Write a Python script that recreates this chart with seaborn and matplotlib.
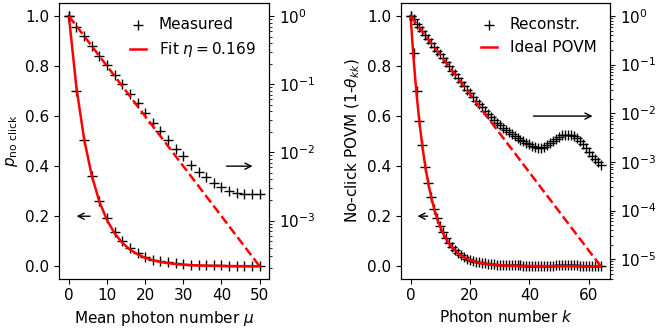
import matplotlib
matplotlib.use("Agg")
import matplotlib.pyplot as plt
import seaborn as sns
import pandas as pd

# левая панель: средняя фотонная частота и вероятность "нет клика"
mu = [0, 2, 4, 6, 8, 10, 12, 14, 16, 18, 20, 22, 24, 26, 28, 30, 32, 34,
      36, 38, 40, 42, 44, 46, 48, 50]
p_measured = [1.0, 0.70, 0.503, 0.36, 0.26, 0.191, 0.138, 0.101, 0.0726,
              0.0521, 0.0383, 0.0266, 0.0205, 0.0151, 0.0113, 0.0087, 0.0066,
              0.0051, 0.0043, 0.0036, 0.0031, 0.00275, 0.00257, 0.00248,
              0.00248, 0.00248]
p_fit = [1.0, 0.7132, 0.5086, 0.3628, 0.2587, 0.1845, 0.1316, 0.09386,
         0.06694, 0.04774, 0.03405, 0.02428, 0.01732, 0.01235, 0.00881,
         0.00628, 0.00448, 0.0032, 0.00228, 0.00163, 0.00116, 0.000827,
         0.00059, 0.000421, 0.0003, 0.000214]

# правая панель: POVM по числу фотонов
k = list(range(65))
povm_rec = [1.0, 0.851, 0.700, 0.582, 0.484, 0.398, 0.331, 0.275, 0.229,
            0.193, 0.162, 0.135, 0.1135, 0.0925, 0.0755, 0.0630, 0.0525,
            0.0438, 0.0366, 0.0306, 0.0257, 0.0216, 0.0183, 0.0155, 0.0132,
            0.0113, 0.0097, 0.0084, 0.0073, 0.00640, 0.00566, 0.00503,
            0.00448, 0.00407, 0.00372, 0.00339, 0.00309, 0.00288, 0.00263,
            0.00245, 0.00229, 0.00214, 0.00200, 0.00191, 0.00191, 0.00200,
            0.00219, 0.00245, 0.00275, 0.00302, 0.00331, 0.00351, 0.00363,
            0.00363, 0.00355, 0.00339, 0.00309, 0.00269, 0.00229, 0.00191,
            0.00158, 0.00135, 0.00115, 0.00100, 0.00087]
povm_ideal = [1.0, 0.831, 0.6906, 0.5739, 0.4769, 0.3963, 0.3293, 0.2737,
              0.2274, 0.1890, 0.1571, 0.1305, 0.1085, 0.09014, 0.07491,
              0.06225, 0.05173, 0.04299, 0.03572, 0.02969, 0.02467, 0.02050,
              0.01704, 0.01416, 0.01177, 0.00978, 0.00813, 0.00675, 0.00561,
              0.00466, 0.00388, 0.00322, 0.00268, 0.00222, 0.00185, 0.00154,
              0.00128, 0.00106, 0.000881, 0.000732, 0.000609, 0.000506,
              0.000420, 0.000349, 0.000290, 0.000241, 0.000200, 0.000167,
              0.000139, 0.000115, 9.57e-5, 7.95e-5, 6.61e-5, 5.49e-5,
              4.56e-5, 3.79e-5, 3.15e-5, 2.62e-5, 2.18e-5, 1.81e-5, 1.50e-5,
              1.25e-5, 1.04e-5, 8.64e-6, 7.18e-6]

df_left = pd.DataFrame({"x": mu, "meas": p_measured, "fit": p_fit})
df_right = pd.DataFrame({"x": k, "meas": povm_rec, "fit": povm_ideal})

plt.rcParams["font.size"] = 11

fig = plt.figure(figsize=(6.64, 3.32), dpi=100)
ax_l = fig.add_axes([0.0893, 0.1605, 0.316, 0.829])
ax_r = fig.add_axes([0.604, 0.1605, 0.315, 0.829])

configs = [
    (ax_l, df_left, "Measured", r"Fit $\eta=0.169$",
     r"Mean photon number $\mu$", r"$p_\mathrm{no\ click}$",
     [(6.3, 0.2, 1.3, 0.2), (40.6, 0.4, 48.9, 0.4)]),
    (ax_r, df_right, "Reconstr.", "Ideal POVM",
     r"Photon number $k$", r"No-click POVM (1-$\theta_{kk}$)",
     [(6.7, 0.2, 1.4, 0.2), (40.4, 0.6, 62.2, 0.6)]),
]

for ax, df, lab_meas, lab_fit, xlab, ylab, arrows in configs:
    # линейная шкала
    sns.scatterplot(data=df, x="x", y="meas", ax=ax, marker="+", s=50,
                    color="k", linewidth=1.0, label=lab_meas, zorder=2)
    sns.lineplot(data=df, x="x", y="fit", ax=ax, color="red", lw=1.8,
                 label=lab_fit, zorder=3)

    # логарифмическая шкала справа
    ax2 = ax.twinx()
    sns.scatterplot(data=df, x="x", y="meas", ax=ax2, marker="+", s=50,
                    color="k", linewidth=1.0, legend=False, zorder=2)
    sns.lineplot(data=df, x="x", y="fit", ax=ax2, color="red", lw=1.8,
                 linestyle="--", legend=False, zorder=3)
    ax2.set_yscale("log")
    ax2.set_ylabel("")

    ax.set_xlabel(xlab)
    ax.set_ylabel(ylab)
    ax.legend(loc="upper right", frameon=False, handlelength=1.1)

    for x0, y0, x1, y1 in arrows:
        ax.annotate("", xy=(x1, y1), xytext=(x0, y0),
                    arrowprops=dict(arrowstyle="->", color="k", lw=1.0))

ax_l.set_xticks([0, 10, 20, 30, 40, 50])
ax_r.set_xticks([0, 20, 40, 60])

fig.savefig("out.png", dpi=100)
